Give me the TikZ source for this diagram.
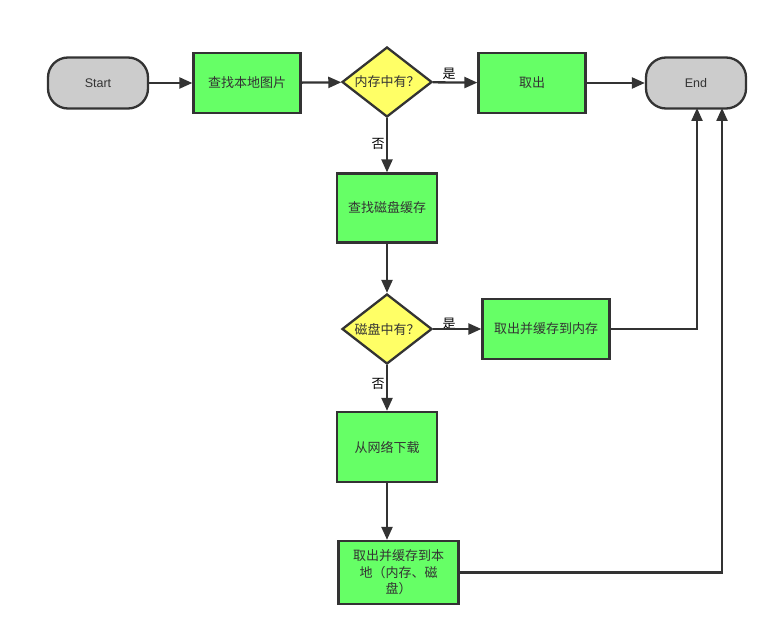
\documentclass[tikz,border=0pt]{standalone}
\usepackage{fontspec}
\setmainfont{Liberation Sans}
\newfontfamily\cjk{Noto Sans CJK SC}
\usetikzlibrary{shapes.geometric,arrows.meta}
\definecolor{ln}{HTML}{333333}
\definecolor{gfill}{HTML}{66FF66}
\definecolor{yfill}{HTML}{FFFF66}
\definecolor{sfill}{HTML}{CCCCCC}
\tikzset{
  x=1pt, y=-1pt,
  base/.style={draw=ln, line width=2.3pt, text=ln, inner sep=0pt, font=\cjk\fontsize{13}{16}\selectfont},
  term/.style={base, fill=sfill, rounded corners=20pt, minimum width=100pt, minimum height=51pt, font=\fontsize{12.5}{14}\selectfont},
  proc/.style={base, fill=gfill, minimum width=107pt, minimum height=60pt},
  dec/.style={base, diamond, fill=yfill, minimum width=90pt, minimum height=70pt,
    label={[text=ln, inner sep=0pt, font=\cjk\fontsize{13}{16}\selectfont]center:#1}},
  conn/.style={draw=ln, line width=2.3pt, -{Triangle[length=13pt,width=11pt]}},
  lbl/.style={text=black, font=\cjk\fontsize{13}{15}\selectfont, inner sep=0pt}
}
\begin{document}
\begin{tikzpicture}
\useasboundingbox (0,0) rectangle (778,636);
\node[term] (start) at (98,83) {Start};
\node[proc] (local) at (247,83) {查找本地图片};
\node[dec=内存中有？] (mem) at (387,82) {};
\node[proc] (take) at (532,83) {取出};
\node[term] (end) at (696,83) {End};
\node[proc, minimum width=100pt, minimum height=69pt] (disk) at (387,208) {查找磁盘缓存};
\node[dec=磁盘中有？] (dq) at (387,329) {};
\node[proc, minimum width=127pt] (tm) at (546,329) {取出并缓存到内存};
\node[proc, minimum width=100pt, minimum height=70pt] (net) at (387,447) {从网络下载};
\node[proc, minimum width=120pt, minimum height=63pt, align=center, font=\cjk\fontsize{13}{16.5}\selectfont] (store) at (398.5,572.5) {取出并缓存到本\\地（内存、磁\\盘）};
\coordinate (e1) at (697,108);
\coordinate (e2) at (722,108);
\node[lbl] (l1) at (449,74) {是};
\node[lbl] (l2) at (378,144) {否};
\node[lbl] (l3) at (449,324) {是};
\node[lbl] (l4) at (378,384) {否};
\draw[conn] (start) -- (local);
\draw[conn] (local) -- (mem);
\draw[conn] (mem) -- (take);
\draw[conn] (take) -- (end);
\draw[conn] (mem) -- (disk);
\draw[conn] (disk) -- (dq);
\draw[conn] (dq) -- (tm);
\draw[conn] (dq) -- (net);
\draw[conn] (net.south) -- (net.south |- store.north);
\draw[conn] (tm.east) -| (e1);
\draw[conn] (store.east) -| (e2);
\end{tikzpicture}
\end{document}
